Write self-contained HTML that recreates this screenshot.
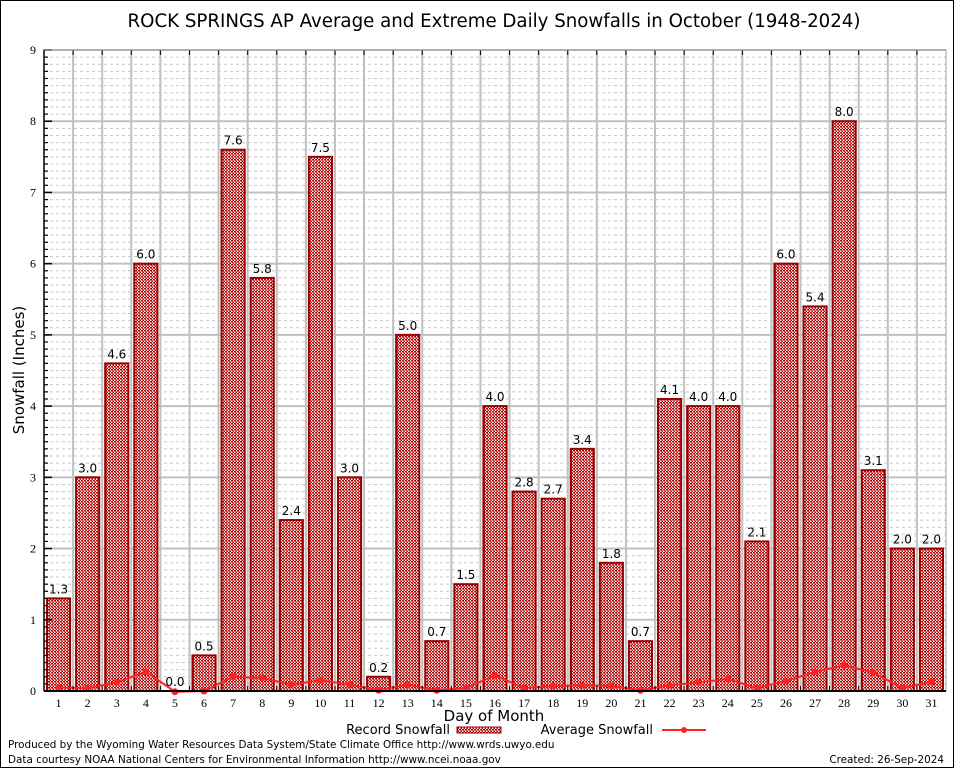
<!DOCTYPE html>
<html><head><meta charset="utf-8"><style>
body{margin:0;background:#fff;}
svg{display:block;}
text{font-family:"DejaVu Sans","Liberation Sans",sans-serif;}
.tk{font-family:"Liberation Serif",serif;font-size:12px;fill:#000;}
</style></head><body>
<svg id="chart" width="954" height="768" xmlns="http://www.w3.org/2000/svg">
<defs>
<pattern id="chk" width="3" height="3" patternUnits="userSpaceOnUse">
<rect width="3" height="3" fill="#fff"/>
<rect width="2" height="1.5" fill="#b00000"/>
<rect x="1.5" y="1.5" width="1.5" height="1.5" fill="#b00000"/>
</pattern>
</defs>
<rect x="0.5" y="0.5" width="953" height="767" fill="#fff" stroke="#000"/>
<text x="494" y="27" font-size="18.2" text-anchor="middle">ROCK SPRINGS AP Average and Extreme Daily Snowfalls in October (1948-2024)</text>
<g id="grid"></g>
<g id="bars"></g>
<g id="avg"></g>
<g id="axes"></g>
<text x="24" y="370" font-size="15" text-anchor="middle" transform="rotate(-90 24 370)">Snowfall (Inches)</text>
<text x="494" y="721" font-size="15" text-anchor="middle">Day of Month</text>
<g>
<text x="450" y="734" font-size="13" text-anchor="end">Record Snowfall</text>
<rect x="457" y="727" width="44" height="6" fill="url(#chk)" stroke="#900"/>
<text x="653" y="734" font-size="13" text-anchor="end">Average Snowfall</text>
<line x1="662" y1="730" x2="706" y2="730" stroke="#f22" stroke-width="2"/>
<circle cx="684" cy="730" r="3" fill="#f22"/>
</g>
<text x="8" y="748" font-size="10.4">Produced by the Wyoming Water Resources Data System/State Climate Office http://www.wrds.uwyo.edu</text>
<text x="8" y="763" font-size="10.4">Data courtesy NOAA National Centers for Environmental Information http://www.ncei.noaa.gov</text>
<text x="944" y="763" font-size="10.4" text-anchor="end">Created: 26-Sep-2024</text>
</svg>
<script>
const days=[1,2,3,4,5,6,7,8,9,10,11,12,13,14,15,16,17,18,19,20,21,22,23,24,25,26,27,28,29,30,31];
const recordVals=[1.3,3.0,4.6,6.0,0.0,0.5,7.6,5.8,2.4,7.5,3.0,0.2,5.0,0.7,1.5,4.0,2.8,2.7,3.4,1.8,0.7,4.1,4.0,4.0,2.1,6.0,5.4,8.0,3.1,2.0,2.0];
const avgVals=[0.05,0.04,0.12,0.27,-0.01,0.0,0.2,0.18,0.09,0.15,0.09,0.01,0.09,0.01,0.04,0.22,0.04,0.07,0.08,0.07,0.01,0.08,0.12,0.17,0.04,0.14,0.27,0.36,0.26,0.04,0.13];
const yTicks=[0,1,2,3,4,5,6,7,8,9];
const NS="http://www.w3.org/2000/svg";
const L=44,R=946,T=50,B=691,YMAX=9;
const slot=(R-L)/days.length;
const xc=d=>L+(d-0.5)*slot;
const y=v=>B-(v/YMAX)*(B-T);
function mk(tag,attrs,parent,txt){const e=document.createElementNS(NS,tag);for(const k in attrs)e.setAttribute(k,attrs[k]);if(txt!==undefined)e.textContent=txt;parent.appendChild(e);return e;}
const grid=document.getElementById('grid'),bars=document.getElementById('bars'),avg=document.getElementById('avg'),axes=document.getElementById('axes');
for(let i=1;i<YMAX*10;i++){if(i%10===0)continue;const g=mk('line',{x1:L,x2:R,y1:y(i/10),y2:y(i/10),stroke:'#c8c8c8','stroke-width':1,'stroke-dasharray':'3,3'},grid);

}
yTicks.forEach(v=>{const g=mk('line',{x1:L,x2:R,y1:y(v),y2:y(v),stroke:'#c0c0c0','stroke-width':2},grid);


const t=mk('text',{x:L-8,y:y(v)+4,'text-anchor':'end',class:'tk'},axes,String(v));


const tk=mk('line',{x1:L,x2:L+8,y1:y(v),y2:y(v),stroke:'#000','stroke-width':1.5},axes);

});
for(let i=0;i<YMAX*10;i++){if(i%10===0)continue;const tk=mk('line',{x1:L,x2:L+4,y1:y(i/10),y2:y(i/10),stroke:'#000','stroke-width':1.2},axes);

}
for(let i=1;i<days.length;i++){const xx=L+i*slot;const g=mk('line',{x1:xx,x2:xx,y1:T,y2:B,stroke:'#c0c0c0','stroke-width':2},grid);


const t1=mk('line',{x1:xx,x2:xx,y1:B,y2:B-5,stroke:'#000'},axes);


const t2=mk('line',{x1:xx,x2:xx,y1:T,y2:T+5,stroke:'#000'},axes);

}
days.forEach((d,i)=>{const v=recordVals[i];const bw=slot-6;
if(v>0){const r=mk('rect',{x:xc(d)-bw/2,y:y(v),width:bw,height:B-y(v),fill:'url(#chk)',stroke:'#990000','stroke-width':2},bars);

}
const t=mk('text',{x:xc(d),y:y(v)-5,'text-anchor':'middle','font-size':12},bars,v.toFixed(1));


const xl=mk('text',{x:xc(d),y:B+16,'text-anchor':'middle',class:'tk'},axes,String(d));

});
const pts=days.map((d,i)=>xc(d)+','+y(avgVals[i])).join(' ');
const pl=mk('polyline',{points:pts,fill:'none',stroke:'#ff2020','stroke-width':2},avg);


days.forEach((d,i)=>{const c=mk('circle',{cx:xc(d),cy:y(avgVals[i]),r:3.5,fill:'#ff2020'},avg);

});
const fr=mk('rect',{x:L,y:T,width:R-L,height:B-T,fill:'none',stroke:'#a0a0a0','stroke-width':1},axes);


const bl=mk('line',{x1:L,x2:R,y1:B,y2:B,stroke:'#000','stroke-width':2},axes);


const ll=mk('line',{x1:L,x2:L,y1:T,y2:B,stroke:'#000','stroke-width':1.5},axes);


</script>
</body></html>
